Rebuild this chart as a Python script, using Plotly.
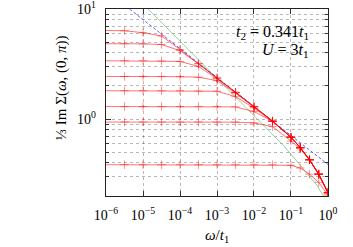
import plotly.graph_objects as go

# frequency grid (omega / t1)
omega = [1e-6, 3.16e-6, 1e-5, 3.16e-5, 1e-4, 3.16e-4, 1e-3, 3.16e-3,
         1e-2, 3.16e-2, 0.1, 0.178, 0.316, 0.562, 1.0]

# (1/3) Im Sigma for the eight red curves
curve1 = [6.38, 6.35, 6.10, 5.69, 4.29, 3.20, 2.37, 1.75, 1.30, 0.959, 0.684, 0.550, 0.427, 0.316, 0.214]
curve2 = [4.84, 4.84, 4.83, 4.76, 4.19, 3.18, 2.37, 1.75, 1.30, 0.959, 0.684, 0.550, 0.427, 0.316, 0.214]
curve3 = [3.39, 3.39, 3.39, 3.38, 3.34, 3.01, 2.33, 1.75, 1.30, 0.959, 0.684, 0.550, 0.427, 0.316, 0.214]
curve4 = [2.44, 2.44, 2.44, 2.44, 2.43, 2.40, 2.24, 1.72, 1.29, 0.959, 0.684, 0.550, 0.427, 0.316, 0.214]
curve5 = [1.81, 1.81, 1.81, 1.81, 1.81, 1.80, 1.79, 1.60, 1.26, 0.955, 0.684, 0.550, 0.427, 0.316, 0.214]
curve6 = [1.30, 1.30, 1.30, 1.30, 1.30, 1.30, 1.30, 1.29, 1.17, 0.955, 0.682, 0.550, 0.427, 0.316, 0.214]
curve7 = [0.940, 0.940, 0.940, 0.940, 0.940, 0.940, 0.940, 0.938, 0.923, 0.855, 0.631, 0.537, 0.425, 0.316, 0.214]
curve8 = [0.385, 0.385, 0.385, 0.385, 0.385, 0.385, 0.385, 0.385, 0.385, 0.385, 0.380, 0.359, 0.316, 0.266, 0.204]
curves = [curve1, curve2, curve3, curve4, curve5, curve6, curve7, curve8]

# asymptotic power laws
blue_x = [1e-6, 1.0]
blue_y = [14.7, 0.387]
green_x = [1.38e-5, 3.16e-4, 4.17e-3, 0.0631, 0.501, 0.759]
green_y = [10.0, 3.47, 1.45, 0.575, 0.251, 0.2]

xtick_vals = [1e-6, 1e-5, 1e-4, 1e-3, 1e-2, 1e-1, 1.0]
xtick_text = ["10<sup>−6</sup>", "10<sup>−5</sup>", "10<sup>−4</sup>", "10<sup>−3</sup>",
              "10<sup>−2</sup>", "10<sup>−1</sup>", "10<sup>0</sup>"]
ytick_vals = [1.0, 10.0]
ytick_text = ["10<sup>0</sup>", "10<sup>1</sup>"]
yminor_vals = [0.2, 0.3, 0.4, 0.5, 0.6, 0.7, 0.8, 0.9, 2, 3, 4, 5, 6, 7, 8, 9]

FONT = "Liberation Serif"

fig = go.Figure()

fig.add_trace(go.Scatter(x=green_x, y=green_y, mode="lines",
                         line=dict(color="rgba(110,190,110,0.7)", width=1),
                         showlegend=False, hoverinfo="skip"))
fig.add_trace(go.Scatter(x=blue_x, y=blue_y, mode="lines",
                         line=dict(color="rgba(30,30,255,0.8)", width=0.9, dash="3px,2px"),
                         showlegend=False, hoverinfo="skip"))

msize = [0] + [6] * (len(omega) - 1)
for c in curves:
    fig.add_trace(go.Scatter(x=omega, y=c, mode="lines+markers",
                             line=dict(color="rgba(255,0,0,0.55)", width=1),
                             marker=dict(symbol="cross-thin", size=msize,
                                         line=dict(color="rgba(255,0,0,0.6)", width=1)),
                             showlegend=False, hoverinfo="skip"))

grid = dict(showgrid=True, gridcolor="rgba(0,0,0,0.28)", griddash="dot", gridwidth=1)

fig.update_xaxes(type="log", range=[-6.0005, 0.0005], tickmode="array",
                 tickvals=xtick_vals, ticktext=xtick_text,
                 ticks="inside", ticklen=5, tickcolor="#333",
                 showline=True, linecolor="#222", linewidth=1.2, mirror="allticks",
                 tickfont=dict(family=FONT, size=14, color="black"),
                 ticklabelstandoff=6, automargin=False, ticklabeloverflow="allow",
                 zeroline=False, **grid)
fig.update_yaxes(type="log", range=[-0.699, 1.0005], tickmode="array",
                 tickvals=ytick_vals, ticktext=ytick_text,
                 ticks="inside", ticklen=5, tickcolor="#333",
                 showline=True, linecolor="#222", linewidth=1.2, mirror="allticks",
                 tickfont=dict(family=FONT, size=14, color="black"),
                 ticklabelstandoff=6, automargin=False, ticklabeloverflow="allow",
                 minor=dict(tickmode="array", tickvals=yminor_vals, ticks="inside",
                            ticklen=3, tickcolor="#333", **grid),
                 zeroline=False, **grid)

fig.add_annotation(text="<i>t</i><sub>2</sub> = 0.341<i>t</i><sub>1</sub>",
                   xref="paper", yref="paper", x=0.925, y=0.877,
                   xanchor="right", yanchor="middle", showarrow=False,
                   font=dict(family=FONT, size=16, color="black"))
fig.add_annotation(text="<i>U</i> = 3<i>t</i><sub>1</sub>",
                   xref="paper", yref="paper", x=0.925, y=0.78,
                   xanchor="right", yanchor="middle", showarrow=False,
                   font=dict(family=FONT, size=16, color="black"))
fig.add_annotation(text="<i>ω</i>/<i>t</i><sub>1</sub>",
                   xref="paper", yref="paper", x=0.5, y=-0.215,
                   xanchor="center", yanchor="middle", showarrow=False,
                   font=dict(family=FONT, size=15, color="black"))
fig.add_annotation(text="⅓ Im Σ(<i>ω</i>, (0, <i>π</i>))",
                   xref="paper", yref="paper", x=-0.2, y=0.58,
                   xanchor="center", yanchor="middle", textangle=-90, showarrow=False,
                   font=dict(family=FONT, size=15, color="black"))

fig.update_layout(width=353, height=247,
                  margin=dict(l=106, r=25, t=9, b=51),
                  paper_bgcolor="white", plot_bgcolor="white",
                  showlegend=False)

fig.write_html("out.html", config={"displayModeBar": False, "staticPlot": True},
               post_script="document.body.style.margin='0';document.body.style.overflow='hidden';")
